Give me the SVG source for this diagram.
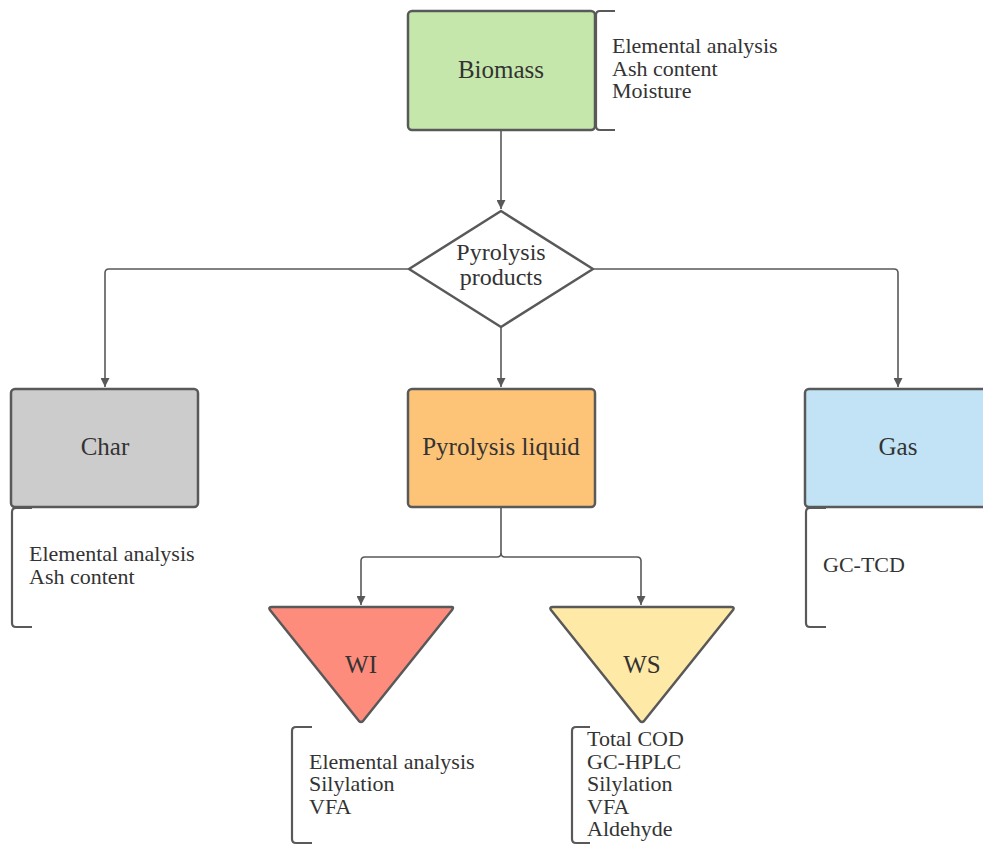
<svg xmlns="http://www.w3.org/2000/svg" width="983" height="846" viewBox="0 0 983 846">
<defs>
<marker id="arr" viewBox="0 0 10 10" refX="10" refY="5" markerWidth="9" markerHeight="9" markerUnits="userSpaceOnUse" orient="auto">
<path d="M0,0 L10,5 L0,10 Z" fill="#595959"/>
</marker>
</defs>
<style>
.box{stroke:#595959;stroke-width:2.5;stroke-linejoin:round}
.con{fill:none;stroke:#595959;stroke-width:1.6}
.br{fill:none;stroke:#595959;stroke-width:2.2;stroke-linejoin:round}
.lbl{font-family:"Liberation Serif","DejaVu Serif",serif;font-size:25px;fill:#333333;text-anchor:middle}
.lst{font-family:"Liberation Serif","DejaVu Serif",serif;font-size:22px;fill:#333333}
</style>
<rect width="983" height="846" fill="#ffffff"/>
<g id="connectors">
<path class="con" d="M501,131 L501,209" marker-end="url(#arr)"/>
<path class="con" d="M409,269 L109,269 Q105,269 105,273 L105,387" marker-end="url(#arr)"/>
<path class="con" d="M594,269 L894,269 Q898,269 898,273 L898,387" marker-end="url(#arr)"/>
<path class="con" d="M501,327 L501,387" marker-end="url(#arr)"/>
<path class="con" d="M501,508 L501,553 Q501,557 497,557 L365,557 Q361,557 361,561 L361,605" marker-end="url(#arr)"/>
<path class="con" d="M501,553 Q501,557 505,557 L637,557 Q641,557 641,561 L641,605" marker-end="url(#arr)"/>
</g>
<g id="biomass">
<rect class="box" x="408" y="11" width="187" height="119" rx="4" fill="#c6e7ac"/>
<text class="lbl" x="501" y="78">Biomass</text>
<path class="br" d="M615,11 L600,11 Q596,11 596,15 L596,126 Q596,130 600,130 L615,130"/>
<text class="lst" x="612" y="53">Elemental analysis</text>
<text class="lst" x="612" y="76">Ash content</text>
<text class="lst" x="612" y="98">Moisture</text>
</g>
<g id="pyrolysis-products">
<path class="box" d="M501,211 L593,269 L501,327 L409,269 Z" fill="#ffffff"/>
<text class="lbl" x="501" y="260" style="font-size:24px">Pyrolysis</text>
<text class="lbl" x="501" y="285" style="font-size:24px">products</text>
</g>
<g id="char">
<rect class="box" x="11" y="389" width="187" height="118" rx="4" fill="#cccccc"/>
<text class="lbl" x="105" y="455">Char</text>
<path class="br" d="M32,508 L16,508 Q12,508 12,512 L12,623 Q12,627 16,627 L32,627"/>
<text class="lst" x="29" y="561">Elemental analysis</text>
<text class="lst" x="29" y="584">Ash content</text>
</g>
<g id="pyrolysis-liquid">
<rect class="box" x="408" y="389" width="187" height="118" rx="4" fill="#fdc477"/>
<text class="lbl" x="501" y="455">Pyrolysis liquid</text>
</g>
<g id="gas">
<rect class="box" x="805" y="389" width="187" height="118" rx="4" fill="#c1e3f5"/>
<text class="lbl" x="898" y="455">Gas</text>
<path class="br" d="M826,508 L810,508 Q806,508 806,512 L806,623 Q806,627 810,627 L826,627"/>
<text class="lst" x="823" y="572">GC-TCD</text>
</g>
<g id="wi">
<path class="box" d="M272,607 L452,607 Q454,607 452,610 L363,721 Q361,723 359,721 L270,610 Q268,607 272,607 Z" fill="#fe8c7c"/>
<text class="lbl" x="361" y="673">WI</text>
<path class="br" d="M312,727 L296,727 Q292,727 292,731 L292,839 Q292,843 296,843 L312,843"/>
<text class="lst" x="309" y="769">Elemental analysis</text>
<text class="lst" x="309" y="791">Silylation</text>
<text class="lst" x="309" y="814">VFA</text>
</g>
<g id="ws">
<path class="box" d="M553,607 L731,607 Q735,607 733,610 L644,721 Q642,723 640,721 L551,610 Q549,607 553,607 Z" fill="#ffe9a6"/>
<text class="lbl" x="642" y="673">WS</text>
<path class="br" d="M590,727 L576,727 Q572,727 572,731 L572,839 Q572,843 576,843 L590,843"/>
<text class="lst" x="587" y="746">Total COD</text>
<text class="lst" x="587" y="769">GC-HPLC</text>
<text class="lst" x="587" y="791">Silylation</text>
<text class="lst" x="587" y="814">VFA</text>
<text class="lst" x="587" y="836">Aldehyde</text>
</g>
</svg>
